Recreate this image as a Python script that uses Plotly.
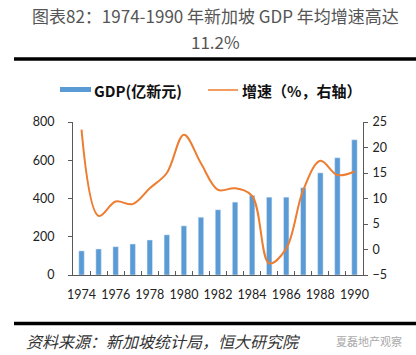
import plotly.graph_objects as go

years = [str(y) for y in range(1974, 1991)]
gdp = [126, 136, 148, 162, 183, 210, 257, 302, 341, 381, 416, 407, 407, 456, 534, 613, 707]
growth = [23.5, 6.6, 9.4, 8.9, 12.0, 15.0, 22.5, 16.9, 11.7, 12.0, 10.5, -2.7, 0.2, 11.7, 17.4, 14.6, 15.3]
tick_text = [y if i % 2 == 0 else "" for i, y in enumerate(years)]
left_ticks = [0, 200, 400, 600, 800]
right_ticks = [-5, 0, 5, 10, 15, 20, 25]

title1 = "图表82：1974-1990 年新加坡 GDP 年均增速高达"
title2 = "11.2%"
legend_gdp = "GDP(亿新元)"
legend_growth = "增速（%，右轴）"
source = "资料来源：新加坡统计局，恒大研究院"
watermark = "夏磊地产观察"

W, H = 416, 355
L, R, T, B = 73, 363, 122, 275

def px(x):
    return (x - L) / (R - L)

def py(y):
    return (B - y) / (B - T)

BLUE = "#5B9BD5"
ORANGE = "#ED7D31"
AXIS = "#595959"
TICKFONT = dict(family="Lato, Liberation Sans, sans-serif", size=12.5, color="#222222")
CJK = "Noto Sans CJK SC, sans-serif"

fig = go.Figure()
fig.add_trace(go.Bar(x=years, y=gdp, marker_color=BLUE, name=legend_gdp, yaxis="y"))
fig.add_trace(go.Scatter(x=years, y=growth, mode="lines", line=dict(color=ORANGE, width=2, shape="spline", smoothing=1.0),
                         name=legend_growth, yaxis="y2"))

fig.update_layout(
    width=W, height=H, autosize=False,
    margin=dict(l=L, r=W - R, t=T, b=H - B, pad=0),
    paper_bgcolor="white", plot_bgcolor="white",
    showlegend=False, bargap=0.68,
    xaxis=dict(type="category", tickvals=years, ticktext=tick_text, tickson="boundaries",
               ticks="inside", ticklen=4, tickcolor=AXIS, showline=True, linecolor=AXIS, linewidth=1,
               showgrid=False, tickfont=TICKFONT, ticklabelstandoff=8, tickangle=0),
    yaxis=dict(range=[0, 800], tickvals=left_ticks, ticks="outside", ticklen=4, tickcolor=AXIS,
               showline=True, linecolor=AXIS, linewidth=1, showgrid=False, zeroline=False,
               tickfont=TICKFONT, ticklabelstandoff=11),
    yaxis2=dict(range=[-5, 25], tickvals=right_ticks, overlaying="y", side="right", ticks="outside",
                ticklen=4, tickcolor=AXIS, showline=True, linecolor=AXIS, linewidth=1, showgrid=False,
                zeroline=False, tickfont=TICKFONT, ticklabelstandoff=2),
)

shapes = [
    dict(type="line", xref="paper", yref="paper", x0=px(14), x1=px(416), y0=py(59), y1=py(59),
         line=dict(color="black", width=3.3)),
    dict(type="line", xref="paper", yref="paper", x0=px(14), x1=px(416), y0=py(323.5), y1=py(323.5),
         line=dict(color="black", width=3.3)),
    dict(type="rect", xref="paper", yref="paper", x0=px(60), x1=px(91), y0=py(92), y1=py(87),
         fillcolor=BLUE, line=dict(width=0)),
    dict(type="line", xref="paper", yref="paper", x0=px(208), x1=px(238), y0=py(90), y1=py(90),
         line=dict(color=ORANGE, width=1.5)),
]
fig.update_layout(shapes=shapes)

ann = [
    dict(text=title1, x=px(215), y=py(15), xanchor="center", yanchor="middle",
         font=dict(family=CJK, size=17, color="#555555")),
    dict(text=title2, x=px(215), y=py(41), xanchor="center", yanchor="middle",
         font=dict(family=CJK, size=17, color="#555555")),
    dict(text="<b>" + legend_gdp + "</b>", x=px(92), y=py(90), xanchor="left", yanchor="middle",
         font=dict(family=CJK, size=15, color="#111111")),
    dict(text="<b>" + legend_growth + "</b>", x=px(240), y=py(90), xanchor="left", yanchor="middle",
         font=dict(family=CJK, size=15, color="#111111")),
    dict(text="<i>" + source + "</i>", x=px(24), y=py(341), xanchor="left", yanchor="middle",
         font=dict(family=CJK, size=16, color="#333333")),
    dict(text=watermark, x=px(334), y=py(341), xanchor="left", yanchor="middle",
         font=dict(family=CJK, size=11, color="#aaaaaa")),
]
for a in ann:
    a.update(xref="paper", yref="paper", showarrow=False)
fig.update_layout(annotations=ann)

fig.write_html("out.html", config={"displayModeBar": False},
               post_script="document.body.style.margin='0';document.body.style.padding='0';document.body.style.overflow='hidden';")
